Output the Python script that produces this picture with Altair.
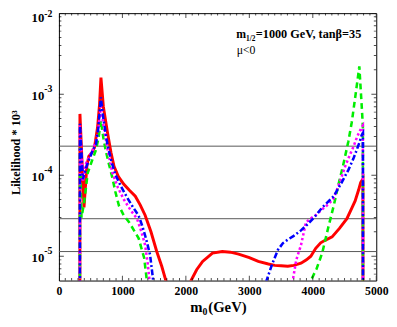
import altair as alt
import pandas as pd

# ---------------- data ----------------
red_x = [330, 331, 395, 440, 470, 520, 560, 609, 640, 662, 700, 764, 820, 868, 940,
         1023, 1110, 1203, 1280, 1358, 1450, 1540, 1620, 1720, 2060, 2082, 2170, 2264,
         2419, 2574, 2700, 2831, 3000, 3141, 3300, 3400, 3500, 3606, 3700, 3814, 3900,
         3969, 4046, 4124, 4200, 4304, 4420, 4537, 4620, 4667, 4720, 4754, 4790, 4791]
red_y = [1e-6, 5.7e-4, 4.0e-5, 1.3e-4, 1.7e-4, 1.9e-4, 2.2e-4, 3.9e-4, 7.5e-4, 1.6e-3,
         7.0e-4, 3.4e-4, 1.9e-4, 1.29e-4, 9.5e-5, 7.7e-5, 6.5e-5, 5.5e-5, 4.3e-5, 3.2e-5,
         2.0e-5, 1.15e-5, 7.5e-6, 4.0e-6, 4.0e-6, 5.0e-6, 6.8e-6, 8.6e-6, 1.09e-5, 1.14e-5,
         1.12e-5, 1.06e-5, 9.6e-6, 8.6e-6, 8.0e-6, 7.7e-6, 7.6e-6, 7.5e-6, 7.7e-6, 8.2e-6,
         9.0e-6, 1.0e-5, 1.25e-5, 1.46e-5, 1.58e-5, 1.73e-5, 2.2e-5, 2.9e-5, 4.0e-5, 4.8e-5,
         6.5e-5, 8.1e-5, 9.0e-5, 1e-6]

green_x = [330, 331, 355, 395, 454, 520, 583, 625, 660, 700, 738, 790, 842, 890, 945,
           1020, 1100, 1180, 1256, 1300, 1343, 1400, 3900, 3969, 4060, 4149, 4240, 4330,
           4410, 4485, 4560, 4614, 4667, 4710, 4733, 4769, 4789, 4790]
green_y = [1e-6, 2.2e-4, 3.0e-5, 4.5e-5, 1.07e-4, 1.5e-4, 2.04e-4, 2.9e-4, 4.7e-4, 2.9e-4,
           2.0e-4, 1.35e-4, 9.3e-5, 6.2e-5, 4.2e-5, 3.2e-5, 2.66e-5, 2.1e-5, 1.66e-5,
           1.25e-5, 9.5e-6, 4e-6, 3e-6, 5e-6, 7e-6, 1.1e-5, 2.2e-5, 4.2e-5, 8e-5, 1.4e-4,
           2.6e-4, 4.5e-4, 9e-4, 1.6e-3, 2.2e-3, 7.5e-4, 4e-4, 1e-6]

magenta_x = [330, 331, 377, 428, 480, 532, 580, 620, 660, 700, 760, 842, 930, 1023, 1130,
             1230, 1300, 1358, 1400, 1440, 3640, 3684, 3740, 3814, 3860, 3891, 3960, 4046,
             4150, 4250, 4330, 4420, 4511, 4580, 4640, 4700, 4769, 4789, 4790]
magenta_y = [1e-6, 4.1e-4, 8.5e-5, 1.4e-4, 1.7e-4, 2.05e-4, 2.6e-4, 3.6e-4, 7.1e-4, 4.2e-4,
             2.2e-4, 1.07e-4, 7e-5, 5.0e-5, 3.7e-5, 2.9e-5, 2.0e-5, 1.37e-5, 8e-6, 4e-6,
             3.5e-6, 5e-6, 9e-6, 1.37e-5, 2.0e-5, 2.6e-5, 2.9e-5, 3.2e-5, 3.8e-5, 4.4e-5,
             5.2e-5, 8e-5, 1.29e-4, 1.75e-4, 2.24e-4, 3.0e-4, 3.9e-4, 4.1e-4, 1e-6]

blue_x = [330, 331, 377, 430, 480, 530, 583, 620, 660, 700, 764, 830, 893, 980, 1074,
          1160, 1256, 1310, 1358, 1400, 1436, 1500, 3230, 3271, 3360, 3452, 3530, 3606,
          3700, 3814, 3900, 4020, 4150, 4330, 4450, 4563, 4640, 4692, 4740, 4769, 4790, 4791]
blue_y = [1e-6, 4.3e-4, 8.9e-5, 1.25e-4, 1.6e-4, 2.0e-4, 2.4e-4, 3.8e-4, 9.1e-4, 5e-4,
          2.4e-4, 1.45e-4, 1.0e-4, 7.2e-5, 5.3e-5, 4.1e-5, 3.16e-5, 2.4e-5, 1.8e-5, 1.35e-5,
          1.04e-5, 4e-6, 3.5e-6, 5e-6, 8e-6, 1.2e-5, 1.45e-5, 1.6e-5, 1.78e-5, 2.08e-5,
          2.4e-5, 3.0e-5, 4.0e-5, 5.5e-5, 8.0e-5, 1.17e-4, 1.6e-4, 2.05e-4, 2.6e-4, 3.1e-4,
          3.3e-4, 1e-6]

hline_y = [2.28e-4, 2.9e-5, 1.14e-5]

x_major = [0, 1000, 2000, 3000, 4000, 5000]
x_minor = list(range(0, 5001, 100))
y_label_vals = [1e-2, 1e-3, 1e-4, 1e-5]
y_label_exp = ["-2", "-3", "-4", "-5"]
y_decades = [1e-6, 1e-5, 1e-4, 1e-3, 1e-2]
y_minor = [k * d for d in y_decades[:-1] for k in range(1, 10)] + [1e-2]
y_minor = [v for v in y_minor if v >= 5e-6]

# ---------------- layout / style ----------------
W, H = 324, 273
FONT = "Liberation Serif"
xs = alt.Scale(domain=[0, 5000], nice=False, zero=False)
ys = alt.Scale(type="log", domain=[5e-6, 1e-2], nice=False)


def frame(xv, yv):
    return pd.DataFrame({"m0": xv, "L": yv, "i": list(range(len(xv)))})


def line(xv, yv, color, dash, xaxis=None, yaxis=None, width=2.6):
    kw = dict(color=color, strokeWidth=width, clip=True, interpolate="linear")
    if dash:
        kw["strokeDash"] = dash
    return alt.Chart(frame(xv, yv)).mark_line(**kw).encode(
        x=alt.X("m0:Q", scale=xs, axis=xaxis),
        y=alt.Y("L:Q", scale=ys, axis=yaxis),
        order="i:Q",
    )


ax_x_labels = alt.Axis(orient="bottom", values=x_major, ticks=False, domain=False, grid=False,
                       format="d", labelFont=FONT, labelFontWeight="bold", labelFontSize=12,
                       labelColor="black", labelPadding=5, labelFlush=False, title=None)
ax_y_title = alt.Axis(orient="left", labels=False, ticks=False, domain=False, grid=False,
                      title="Likelihood * 10³", titleFont=FONT, titleFontSize=12.5,
                      titleFontWeight="bold", titleColor="black", titleAngle=270,
                      titleX=-44, titleY=142, titleAlign="center", titleBaseline="middle")

red = line(red_x, red_y, "#ff0000", None, ax_x_labels, ax_y_title, width=3)
green = line(green_x, green_y, "#00ee00", [6, 4])
magenta = line(magenta_x, magenta_y, "#ff00ff", [2.5, 2.5])
blue = line(blue_x, blue_y, "#0000ff", [6, 2.5, 2, 2.5])

hl = alt.Chart(pd.DataFrame({"L": hline_y})).mark_rule(color="#555555", strokeWidth=1).encode(
    y=alt.Y("L:Q", scale=ys, axis=None))

# inward ticks on all four sides (tick marks centred on the frame, clipped to the plot)
xt = pd.DataFrame({"v": x_minor, "s": [10 if v in x_major else 5 for v in x_minor]})
yt = pd.DataFrame({"v": y_minor,
                   "s": [10 if any(abs(v - d) < d * 1e-6 for d in y_decades) else 5 for v in y_minor]})


def xticks(ypos):
    return alt.Chart(xt).mark_tick(orient="vertical", clip=True, color="black", thickness=1).encode(
        x=alt.X("v:Q", scale=xs, axis=None), y=alt.value(ypos),
        size=alt.Size("s:Q", scale=None, legend=None))


def yticks(xpos):
    return alt.Chart(yt).mark_tick(orient="horizontal", clip=True, color="black", thickness=1).encode(
        y=alt.Y("v:Q", scale=ys, axis=None), x=alt.value(xpos),
        size=alt.Size("s:Q", scale=None, legend=None))


# y tick labels: "10" with superscript exponent
ylab = pd.DataFrame({"L": y_label_vals, "exp": y_label_exp})


def ylabels(filt, dy_base, dy_exp):
    base = alt.Chart(ylab).transform_filter(filt)
    ten = base.mark_text(font=FONT, fontWeight="bold", fontSize=13, align="right",
                         baseline="middle", dy=dy_base, color="black").encode(
        x=alt.value(-15), y=alt.Y("L:Q", scale=ys, axis=None), text=alt.value("10"))
    ex = base.mark_text(font=FONT, fontWeight="bold", fontSize=10, align="left",
                        baseline="middle", dy=dy_exp, color="black").encode(
        x=alt.value(-15), y=alt.Y("L:Q", scale=ys, axis=None), text="exp:N")
    return [ten, ex]


one = alt.Data(values=[{}])


def txt(s, x, y, size, weight="bold", align="left"):
    return alt.Chart(one).mark_text(font=FONT, fontWeight=weight, fontSize=size, align=align,
                                    baseline="alphabetic", color="black").encode(
        x=alt.value(x), y=alt.value(y), text=alt.value(s))


annotations = [
    txt("m", 181, 25.5, 12),
    txt("1/2", 191, 28, 7.5),
    txt("=1000 GeV, tanβ=35", 201, 25.5, 12.5),
    txt("μ<0", 181.5, 42, 12, weight="normal"),
    txt("m", 134, 305.5, 15),
    txt("0", 146.5, 308.5, 10),
    txt("(GeV)", 152.5, 305.5, 15),
]

layers = [hl, red, green, magenta, blue,
          xticks(H), xticks(0), yticks(0), yticks(W)]
layers += ylabels("datum.L > 0.005", 5, 0.5)
layers += ylabels("datum.L < 0.005", 1.5, -5.5)
layers += annotations

chart = alt.layer(*layers).resolve_scale(x="shared", y="shared").resolve_axis(
    x="independent", y="independent").properties(
    width=W, height=H,
    autosize=alt.AutoSizeParams(type="none"),
    padding={"left": 52, "top": 2, "right": 13, "bottom": 36},
    background="white",
).configure_view(stroke="black", strokeWidth=1)

chart.save("out.html", embed_options={"renderer": "svg", "actions": False})
